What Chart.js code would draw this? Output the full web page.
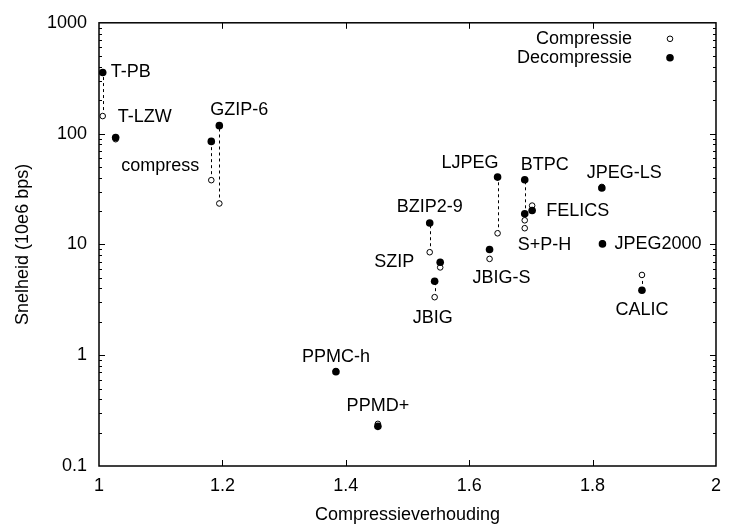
<!DOCTYPE html>
<html lang="nl">
<head>
<meta charset="UTF-8" />
<title>Snelheid tegen compressieverhouding</title>
<script src="https://cdn.jsdelivr.net/npm/chart.js"></script>
<style>
  html, body { margin: 0; padding: 0; background: #fff; }
  #wrap { width: 730px; height: 526px; }
</style>
</head>
<body>
<div id="wrap"><canvas id="chart" width="730" height="526"></canvas></div>
<script>
// data
const algorithms = ['T-PB', 'T-LZW', 'compress', 'GZIP-6', 'BZIP2-9', 'SZIP', 'JBIG', 'LJPEG', 'JBIG-S',
  'BTPC', 'S+P-H', 'FELICS', 'JPEG-LS', 'JPEG2000', 'CALIC', 'PPMC-h', 'PPMD+'];
const ratios = [1.006, 1.027, 1.182, 1.195, 1.536, 1.553, 1.544, 1.646, 1.633,
  1.690, 1.690, 1.702, 1.815, 1.816, 1.880, 1.384, 1.452];
const compressSpeed = [144, 89, 38, 23.4, 8.5, 6.2, 3.34, 12.6, 7.4,
  16.5, 14, 22.4, 33, 10.2, 5.3, 0.72, 0.24];
const decompressSpeed = [356, 92, 85, 118, 15.6, 6.9, 4.65, 40.5, 9.0,
  38.3, 18.9, 20.2, 32.3, 10.1, 3.86, 0.71, 0.228];
const xTicks = [1, 1.2, 1.4, 1.6, 1.8, 2];
const yTicks = [0.1, 1, 10, 100, 1000];
const legendLabels = ['Compressie', 'Decompressie'];

Chart.defaults.font.family = "'Liberation Sans', Arial, sans-serif";
Chart.defaults.font.size = 18;
Chart.defaults.color = '#000';

// where each name sits relative to its point (d = decompressie, c = compressie)
const labelPlacement = {
  'T-PB':     ['d', 8, 0, 'left'],
  'T-LZW':    ['d', 2, -21, 'left'],
  'compress': ['d', -12, 25, 'right'],
  'GZIP-6':   ['d', -9, -16, 'left'],
  'BZIP2-9':  ['d', 0, -16, 'center'],
  'SZIP':     ['d', -26, 0, 'right'],
  'JBIG':     ['c', -2, 21, 'center'],
  'LJPEG':    ['d', 1, -14, 'right'],
  'JBIG-S':   ['c', 12, 19, 'center'],
  'BTPC':     ['d', -4, -15, 'left'],
  'S+P-H':    ['c', -7, 17, 'left'],
  'FELICS':   ['d', 14, 0, 'left'],
  'JPEG-LS':  ['d', -15, -15, 'left'],
  'JPEG2000': ['d', 12, 0, 'left'],
  'CALIC':    ['d', 0, 20, 'center'],
  'PPMC-h':   ['d', 0, -15, 'center'],
  'PPMD+':    ['d', 0, -20, 'center']
};

const frame = {
  id: 'frame',
  beforeDatasetsDraw(chart) {
    const {ctx, chartArea: a, scales: {x, y}} = chart;
    ctx.save();
    ctx.strokeStyle = '#000';
    ctx.lineWidth = 1;
    ctx.beginPath();
    xTicks.slice(1, -1).forEach(v => {
      const px = Math.round(x.getPixelForValue(v)) + 0.5;
      ctx.moveTo(px, a.bottom); ctx.lineTo(px, a.bottom - 6);
      ctx.moveTo(px, a.top); ctx.lineTo(px, a.top + 6);
    });
    for (let d = -1; d < 3; d++) {
      for (let m = 1; m < 10; m++) {
        const v = m * Math.pow(10, d);
        if (m === 1 && d === -1) continue;
        const py = Math.round(y.getPixelForValue(v)) + 0.5;
        const len = m === 1 ? 6 : 3;
        ctx.moveTo(a.left, py); ctx.lineTo(a.left + len, py);
        ctx.moveTo(a.right, py); ctx.lineTo(a.right - len, py);
      }
    }
    ctx.stroke();

    // dashed connectors between compressie and decompressie
    ctx.setLineDash([3, 3]);
    ctx.beginPath();
    ratios.forEach((r, i) => {
      const px = Math.round(x.getPixelForValue(r)) + 0.5;
      ctx.moveTo(px, y.getPixelForValue(compressSpeed[i]));
      ctx.lineTo(px, y.getPixelForValue(decompressSpeed[i]));
    });
    ctx.stroke();
    ctx.setLineDash([]);

    ctx.lineWidth = 1.5;
    ctx.strokeRect(a.left, a.top, a.width, a.height);
    ctx.restore();
  },
  afterDatasetsDraw(chart) {
    const {ctx, chartArea: a, scales: {x, y}} = chart;
    ctx.save();
    ctx.fillStyle = '#000';
    ctx.font = "18px 'Liberation Sans', Arial, sans-serif";
    ctx.textBaseline = 'middle';
    algorithms.forEach((name, i) => {
      const [which, dx, dy, align] = labelPlacement[name];
      const val = which === 'c' ? compressSpeed[i] : decompressSpeed[i];
      ctx.textAlign = align;
      ctx.fillText(name, x.getPixelForValue(ratios[i]) + dx, y.getPixelForValue(val) + dy);
    });

    // legend, gnuplot style: text then symbol
    ctx.textAlign = 'right';
    const lx = a.right - 84, sx = a.right - 46;
    ctx.fillText(legendLabels[0], lx, a.top + 16);
    ctx.fillText(legendLabels[1], lx, a.top + 35);
    ctx.lineWidth = 1;
    ctx.strokeStyle = '#000';
    ctx.beginPath();
    ctx.arc(sx, a.top + 16, 2.8, 0, Math.PI * 2);
    ctx.fillStyle = '#fff';
    ctx.fill();
    ctx.stroke();
    ctx.beginPath();
    ctx.arc(sx, a.top + 35, 3.8, 0, Math.PI * 2);
    ctx.fillStyle = '#000';
    ctx.fill();
    ctx.restore();
  }
};

new Chart(document.getElementById('chart'), {
  type: 'scatter',
  data: {
    datasets: [
      {
        label: legendLabels[0],
        data: ratios.map((r, i) => ({x: r, y: compressSpeed[i]})),
        pointStyle: 'circle',
        pointRadius: 2.8,
        borderWidth: 1,
        borderColor: '#000',
        backgroundColor: '#fff',
        order: 2
      },
      {
        label: legendLabels[1],
        data: ratios.map((r, i) => ({x: r, y: decompressSpeed[i]})),
        pointStyle: 'circle',
        pointRadius: 3.8,
        borderWidth: 0,
        borderColor: '#000',
        backgroundColor: '#000',
        order: 1
      }
    ]
  },
  options: {
    responsive: false,
    animation: false,
    devicePixelRatio: 1,
    layout: { padding: { top: 17, right: 7, bottom: 0, left: 0 } },
    plugins: { legend: { display: false }, tooltip: { enabled: false } },
    scales: {
      x: {
        type: 'linear',
        min: 1,
        max: 2,
        afterBuildTicks: s => { s.ticks = xTicks.map(v => ({value: v})); },
        afterFit: s => { s.height = 60; },
        ticks: { callback: v => String(v), padding: 9, maxRotation: 0, autoSkip: false },
        grid: { display: false, drawTicks: false },
        border: { display: false },
        title: { display: true, text: 'Compressieverhouding', padding: { top: 0, bottom: 0 } }
      },
      y: {
        type: 'logarithmic',
        min: 0.1,
        max: 1000,
        afterBuildTicks: s => { s.ticks = yTicks.map(v => ({value: v})); },
        afterFit: s => { s.width = 99; },
        ticks: { callback: v => String(v), padding: 12, autoSkip: false },
        grid: { display: false, drawTicks: false },
        border: { display: false },
        title: { display: true, text: 'Snelheid (10e6 bps)', padding: { top: 12, bottom: 0 } }
      }
    }
  },
  plugins: [frame]
});
</script>
</body>
</html>
